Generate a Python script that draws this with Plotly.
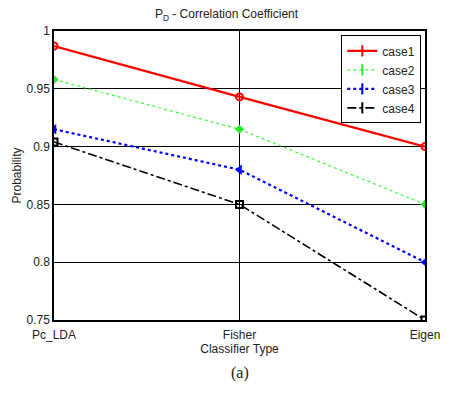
import plotly.graph_objects as go

categories = ["Pc_LDA", "Fisher", "Eigen"]
case1 = [0.987, 0.943, 0.900]
case2 = [0.958, 0.915, 0.850]
case3 = [0.915, 0.880, 0.800]
case4 = [0.904, 0.850, 0.750]
series_names = ["case1", "case2", "case3", "case4"]
y_ticks = [0.75, 0.8, 0.85, 0.9, 0.95, 1]
y_tick_labels = ["0.75", "0.8", "0.85", "0.9", "0.95", "1"]

FONT = "Liberation Sans, Arial, sans-serif"
TXT = "#222"
xpos = list(range(len(categories)))

styles = [
    dict(line=dict(color="#ff0000", width=2.2, dash="solid"),
         marker=dict(symbol="circle-open", size=7, color="#ff0000", line=dict(width=2))),
    dict(line=dict(color="#33ff33", width=1.2, dash="dot"),
         marker=dict(symbol="diamond", size=7, color="#22ee22")),
    dict(line=dict(color="#0000ff", width=2.2, dash="dot"),
         marker=dict(symbol="triangle-left", size=9, color="#0000ff")),
    dict(line=dict(color="#000000", width=1.6, dash="dashdot"),
         marker=dict(symbol="square-open", size=7, color="#000000", line=dict(width=2))),
]
legend_colors = ["#ff0000", "#22ee22", "#0000ff", "#000000"]

fig = go.Figure()
for name, vals, st in zip(series_names, [case1, case2, case3, case4], styles):
    fig.add_trace(go.Scatter(x=xpos, y=vals, name=name, mode="lines+markers",
                             showlegend=False, **st))
# legend entries styled like the original (line with a small tick marker)
for name, st, col in zip(series_names, styles, legend_colors):
    fig.add_trace(go.Scatter(x=[None], y=[None], name=name, mode="lines+markers",
                             line=st["line"],
                             marker=dict(symbol="line-ns-open", size=8, color=col,
                                         line=dict(width=2, color=col))))

fig.update_layout(
    width=453, height=394,
    margin=dict(l=54, r=28, t=31, b=74),
    paper_bgcolor="white", plot_bgcolor="white",
    font=dict(family=FONT, size=12, color=TXT),
    title=dict(text="P<sub>D</sub> - Correlation Coefficient", x=0.5, xanchor="center",
               y=0.975, yanchor="top", font=dict(family=FONT, size=12, color=TXT)),
    showlegend=True,
    legend=dict(x=0.99, y=0.985, xanchor="right", yanchor="top",
                bgcolor="white", bordercolor="black", borderwidth=1,
                font=dict(family=FONT, size=12, color=TXT),
                tracegroupgap=0, itemwidth=30),
    xaxis=dict(range=[0, 2], tickmode="array", tickvals=xpos, ticktext=categories,
               showgrid=True, gridcolor="black", gridwidth=1,
               showline=True, linecolor="black", linewidth=1.5, mirror=True,
               ticks="inside", ticklen=5, tickcolor="black", zeroline=False,
               ticklabelstandoff=3,
               tickfont=dict(family=FONT, size=12, color=TXT),
               title=dict(text="Classifier Type", standoff=0, font=dict(family=FONT, size=12, color=TXT))),
    yaxis=dict(range=[0.75, 1], tickmode="array", tickvals=y_ticks, ticktext=y_tick_labels,
               showgrid=True, gridcolor="black", gridwidth=1,
               showline=True, linecolor="black", linewidth=1.5, mirror=True,
               ticks="inside", ticklen=5, tickcolor="black", zeroline=False,
               tickfont=dict(family=FONT, size=12, color=TXT),
               title=dict(text="Probability", standoff=2, font=dict(family=FONT, size=12, color=TXT))),
)
fig.add_annotation(text="(a)", x=0.5, y=-0.145, xref="paper", yref="paper",
                   xanchor="center", yanchor="top", showarrow=False,
                   font=dict(family="Liberation Serif, Times New Roman, serif", size=16, color=TXT))

fig.write_html("out.html", config={"displayModeBar": False},
               post_script="document.body.style.margin='0';")
